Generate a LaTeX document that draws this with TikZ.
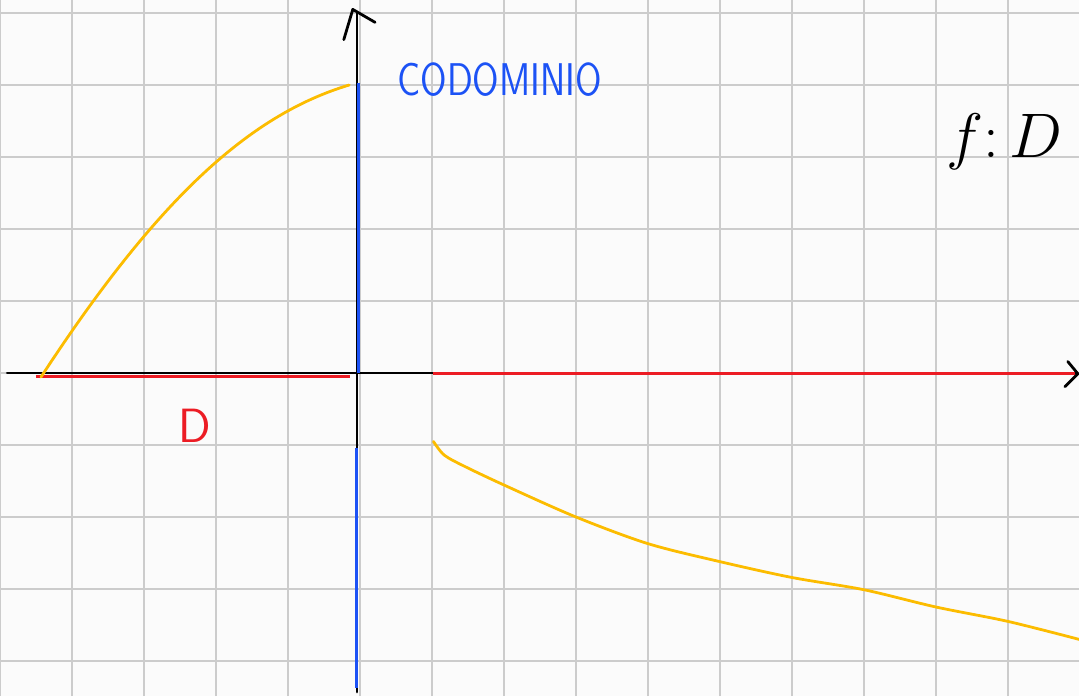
\documentclass[tikz,border=0pt]{standalone}
\usetikzlibrary{calc}
\definecolor{penyellow}{RGB}{252,188,0}
\definecolor{penred}{RGB}{236,28,36}
\definecolor{penblue}{RGB}{28,82,245}

\begin{document}
\begin{tikzpicture}[
  font=\sffamily,
  paper/.style={fill=black!1.5},
  gridline/.style={draw=gray!40, line width=0.8pt},
  axis/.style={draw=black, line width=1.1pt, line cap=round, line join=round},
  dom/.style={draw=penred, line width=1.2pt},
  codom/.style={draw=penblue, line width=1.2pt},
  graph/.style={draw=penyellow, line width=1.1pt, line cap=round},
  domtag/.style={text=penred, font=\sffamily\fontsize{19}{19}\selectfont, anchor=base},
  codomtag/.style={text=penblue, font=\sffamily\fontsize{14.5}{14.5}\selectfont, anchor=base, yscale=1.25},
  maptag/.style={text=black, font=\fontsize{35}{35}\selectfont, anchor=base},
]

\fill[paper] (-5,-4.486) rectangle (9.986,5.181);
\useasboundingbox (-5,-4.486) rectangle (9.986,5.181);
\draw[gridline] (-5,-4.486) grid (9.986,5.181);

\coordinate (xl) at (-4.9,0);
\coordinate (xr) at (9.96,0);
\coordinate (xtip) at (9.97,-0.01);
\coordinate (yb) at (-0.042,-4.43);
\coordinate (yt) at (-0.042,5.0);
\coordinate (ytip) at (-0.1,5.05);

\coordinate (dl) at (-4.5,-0.055);
\coordinate (dm) at (-0.14,-0.055);
\coordinate (dr) at (1.01,0);
\coordinate (de) at (9.93,0);
\coordinate (cu) at (-0.015,4.03);
\coordinate (co) at (-0.015,0);
\coordinate (cl) at (-0.042,-1.04);
\coordinate (cb) at (-0.042,-4.375);

\coordinate (ga) at (-4.43,-0.055);
\coordinate (gb) at (-0.15,4.0);

\draw[axis] (xl) -- (xr);
\draw[axis] (yb) -- (yt);

\draw[dom] (dl) -- (dm);
\draw[dom] (dr) -- (de);
\draw[codom] (cu) -- (co);
\draw[codom] (cl) -- (cb);

\draw[axis] ($(xtip)+(-0.14,0.17)$) -- (xtip) -- ($(xtip)+(-0.18,-0.18)$);
\draw[axis] ($(ytip)+(-0.125,-0.42)$) -- (ytip) -- ($(ytip)+(0.31,-0.18)$);

\draw[graph] (ga) .. controls ($(ga)+(1.6,2.45)$) and ($(gb)+(-1.4,-0.42)$) .. (gb);
\draw[graph] plot[smooth] coordinates {(1.02,-0.95) (1.17,-1.14) (1.46,-1.30)
  (2.01,-1.56) (3.0,-2.0) (4.0,-2.37) (5.0,-2.62) (6.0,-2.84)
  (7.0,-3.01) (8.0,-3.25) (9.0,-3.45) (9.99,-3.70)};

\node[domtag] (dname) at (-2.29,-0.96) {D};
\node[codomtag] (cname) at (1.94,3.86) {CODOMINIO};
\node[maptag] (fmap) at (8.95,2.99) {$f\colon D$};

\end{tikzpicture}
\end{document}
